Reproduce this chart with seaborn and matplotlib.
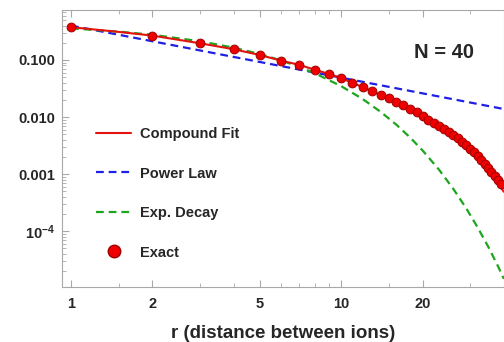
import numpy as np
import pandas as pd
import seaborn as sns
import matplotlib.pyplot as plt
from matplotlib.lines import Line2D
from matplotlib.ticker import FixedLocator, NullFormatter

# exact correlations, r = 1..39
r_exact = list(range(1, 40))
c_exact = [0.375, 0.267, 0.196, 0.154, 0.122, 0.097, 0.0817, 0.0668, 0.0568, 0.0478,
           0.0397, 0.0334, 0.0283, 0.0242, 0.0212, 0.0184, 0.0160, 0.0140, 0.0121, 0.0104,
           0.0089, 0.0078, 0.0069, 0.0062, 0.0055, 0.0048, 0.0043, 0.0037, 0.0032, 0.0028,
           0.00245, 0.0021, 0.00178, 0.00151, 0.00129, 0.0011, 0.00093, 0.00079, 0.00068]

# compound fit (two red curves)
r_fit = [1, 1.5, 2, 3, 4, 5, 6, 7, 8, 9, 10, 12, 14, 16, 18, 20, 22, 24, 26, 28, 30, 32, 34, 36, 38, 40]
c_fit = [0.375, 0.31, 0.267, 0.196, 0.154, 0.122, 0.097, 0.082, 0.067, 0.057, 0.048, 0.0334,
         0.0242, 0.0184, 0.0140, 0.0104, 0.0078, 0.0062, 0.0048, 0.0037, 0.0028, 0.0021,
         0.00151, 0.0011, 0.00079, 0.00058]
r_fit2 = [18, 20, 22, 24, 26, 28, 30, 32, 34, 36, 38, 40]
c_fit2 = [0.0140, 0.0100, 0.0074, 0.0056, 0.0043, 0.0032, 0.0024, 0.00178, 0.00129,
          0.00093, 0.00068, 0.00049]

# power law (straight on log-log)
r_pow = [1, 40]
c_pow = [0.40, 0.0138]

# exponential decay
r_exp = [1, 1.5, 2, 3, 4, 5, 6, 7, 8, 10, 12, 14, 16, 18, 20, 23, 26, 29, 32, 35, 38, 40]
c_exp = [0.357, 0.314, 0.276, 0.213, 0.164, 0.127, 0.0978, 0.0755, 0.0583, 0.0347, 0.0207,
         0.0123, 0.00734, 0.00437, 0.0026, 0.0012, 0.00055, 0.000253, 0.000116, 5.35e-5,
         2.46e-5, 1.46e-5]

sns.set_style("ticks")
plt.rcParams['font.family'] = ['Liberation Sans', 'DejaVu Sans']
plt.rcParams['font.weight'] = 'bold'
plt.rcParams['mathtext.fontset'] = 'custom'
plt.rcParams['mathtext.rm'] = 'Liberation Sans:bold'
plt.rcParams['mathtext.bf'] = 'Liberation Sans:bold'

RED = '#e3120f'
BLUE = '#1f1fe6'
GREEN = '#1ea51e'

fig = plt.figure(figsize=(5.04, 3.42), dpi=100)
ax = fig.add_axes([62/504, 1-287/342, 1-62/504, (287-10)/342])
ax.set_xscale('log')
ax.set_yscale('log')

sns.lineplot(x=r_pow, y=c_pow, ax=ax, color=BLUE, lw=1.6, sort=False, estimator=None)
ax.lines[-1].set_dashes((3.5, 2.2))
sns.lineplot(x=r_exp, y=c_exp, ax=ax, color=GREEN, lw=1.6, sort=False, estimator=None)
ax.lines[-1].set_dashes((3.5, 2.2))
sns.lineplot(x=r_fit2, y=c_fit2, ax=ax, color=RED, lw=1.5, sort=False, estimator=None)
sns.lineplot(x=r_fit, y=c_fit, ax=ax, color=RED, lw=1.5, sort=False, estimator=None)
sns.scatterplot(x=r_exact, y=c_exact, ax=ax, color='#ee0000', edgecolor='#a00000',
                linewidth=0.7, s=40, zorder=5)

ax.set_xlim(0.926, 40.05)
ax.set_ylim(1.05e-5, 0.75)

ax.xaxis.set_major_locator(FixedLocator([1, 2, 5, 10, 20]))
ax.xaxis.set_minor_locator(FixedLocator([1.5, 3, 4, 6, 7, 8, 9, 15, 30, 40]))
ax.set_xticklabels(['1', '2', '5', '10', '20'])
ax.xaxis.set_minor_formatter(NullFormatter())
ax.yaxis.set_major_locator(FixedLocator([1e-4, 1e-3, 1e-2, 1e-1]))
ax.set_yticklabels([r'$\mathbf{10^{-4}}$', '0.001', '0.010', '0.100'])
yminor = [m * 10.0**e for e in range(-5, 0) for m in range(2, 10)]
ax.yaxis.set_minor_locator(FixedLocator(yminor))
ax.yaxis.set_minor_formatter(NullFormatter())

for sp in ax.spines.values():
    sp.set_color('#a8a8a8')
    sp.set_linewidth(0.8)
ax.tick_params(which='both', direction='in', top=True, right=False, color='#a8a8a8',
               labelsize=10.5, pad=5)
ax.tick_params(axis='x', which='major', pad=7)
ax.tick_params(which='major', length=5, width=0.8)
ax.tick_params(which='minor', length=3, width=0.6)
for lab in ax.get_xticklabels() + ax.get_yticklabels():
    lab.set_fontweight('bold')

ax.set_xlabel('r (distance between ions)', fontsize=13.5, fontweight='bold', labelpad=10)
ax.set_ylabel('')

ax.text(444/504, 1-52/342, 'N = 40', transform=fig.transFigure, fontsize=14.5,
        fontweight='bold', ha='center', va='center')

handles = [
    Line2D([], [], color=RED, lw=1.5),
    Line2D([], [], color=BLUE, lw=1.6, dashes=(3.5, 2.2)),
    Line2D([], [], color=GREEN, lw=1.6, dashes=(3.5, 2.2)),
    Line2D([], [], color='#ee0000', marker='o', markeredgecolor='#a00000', markersize=9,
           linestyle='none'),
]
labels = ['Compound Fit', 'Power Law', 'Exp. Decay', 'Exact']
ax.legend(handles, labels, loc='upper left', bbox_to_anchor=(96/504, 1-127/342),
          bbox_transform=fig.transFigure, frameon=False,
          prop={'weight': 'bold', 'size': 10.5}, labelspacing=1.75, handlelength=2.4,
          handletextpad=0.6, borderpad=0, borderaxespad=0)

fig.savefig('out.png', dpi=100)
